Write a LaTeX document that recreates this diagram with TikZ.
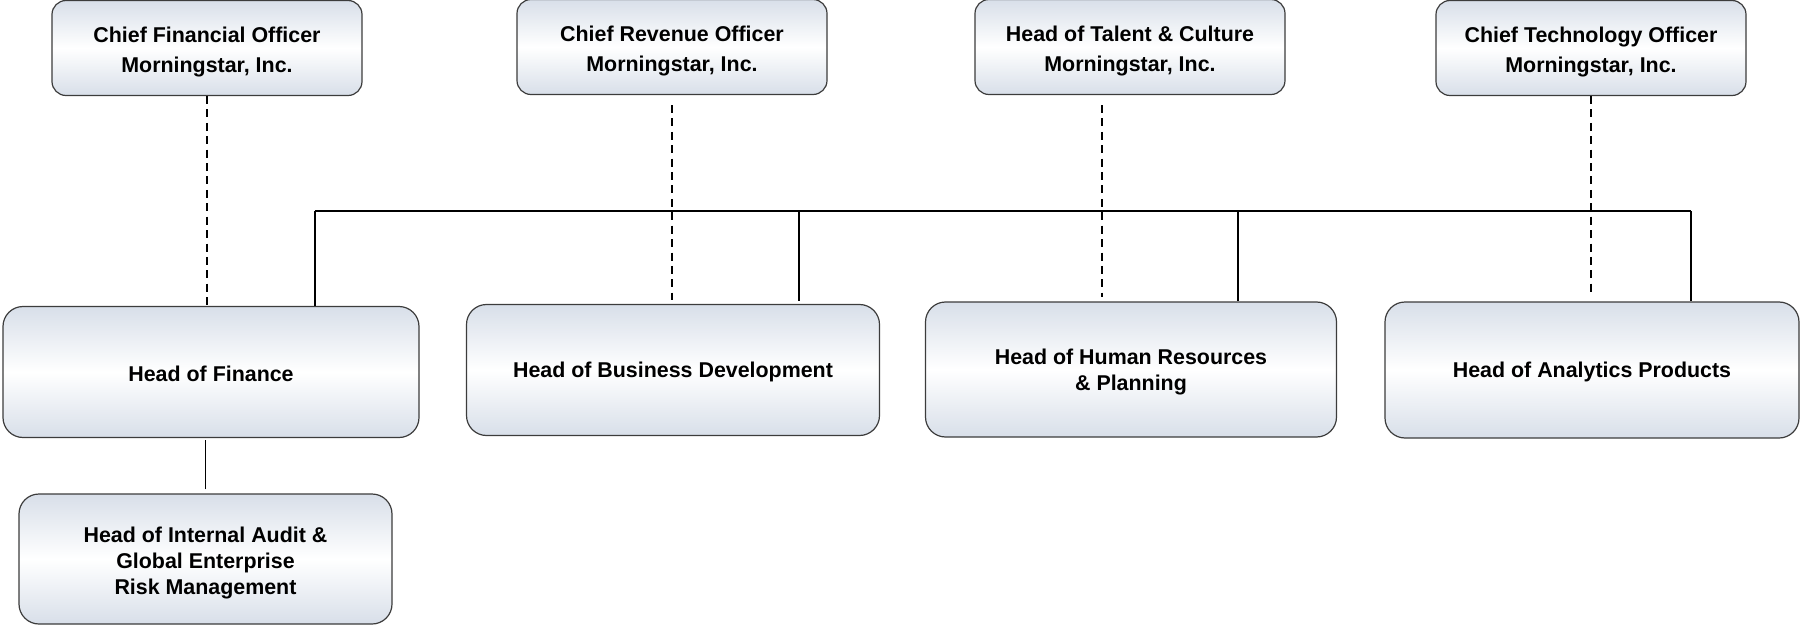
\documentclass[tikz,border=0pt]{standalone}
\usepackage{fontspec}
\setmainfont{Liberation Sans}
\usepackage{xcolor}
\usetikzlibrary{positioning,arrows.meta}

\definecolor{boxedge}{HTML}{3C3C3C}
\definecolor{boxtint}{HTML}{D8DFE9}
\newcommand{\lift}[1]{\rule{0pt}{#1}}

\begin{document}
\begin{tikzpicture}[
    x=0.5pt,
    y=-0.5pt,
    line width=0.8pt,
    font=\fontsize{10.7pt}{12.8pt}\selectfont\bfseries
]

\tikzstyle{post}=[
    draw=boxedge,
    line width=0.6pt,
    rounded corners=7pt,
    top color=boxtint,
    bottom color=boxtint,
    middle color=white,
    align=center,
    inner sep=2pt
]
\tikzstyle{chief}=[post, minimum width=155pt, minimum height=47.5pt,
    font=\fontsize{10.7pt}{14.9pt}\selectfont\bfseries]
\tikzstyle{head}=[post, rounded corners=10pt, minimum width=206.5pt, minimum height=65.5pt]
\tikzstyle{dotted line}=[dash pattern=on 4pt off 2.7pt, line width=0.9pt]

\useasboundingbox (0,0) rectangle (1800,626);

\node[chief] (cfo) at (207,48) {\lift{11.8pt}Chief Financial Officer\\Morningstar, Inc.};
\node[chief] (cro) at (672,47) {\lift{11.8pt}Chief Revenue Officer\\Morningstar, Inc.};
\node[chief] (tal) at (1130,47) {\lift{11.8pt}Head of Talent \& Culture\\Morningstar, Inc.};
\node[chief] (cto) at (1591,48) {\lift{11.8pt}Chief Technology Officer\\Morningstar, Inc.};

\node[head, minimum width=208pt] (fin) at (211,372) {\lift{9.5pt}Head of Finance};
\node[head] (biz) at (673,370) {\lift{10.1pt}Head of Business Development};
\node[head, minimum width=205.5pt, minimum height=67.5pt] (hr) at (1131,369.5) {\lift{10.1pt}Head of Human Resources\\\& Planning};
\node[head, minimum width=207pt, minimum height=68pt] (ana) at (1592,370) {\lift{10.1pt}Head of Analytics Products};
\node[head, minimum width=186.5pt, minimum height=65pt] (aud) at (205.5,559) {\lift{11.8pt}Head of Internal Audit \&\\Global Enterprise\\Risk Management};

\coordinate (barL) at (315,211);
\coordinate (barB) at (799,211);
\coordinate (barH) at (1238,211);
\coordinate (barR) at (1691,211);

\draw (barL) -- (barR);
\draw (barL) -- (barL |- fin.north);
\draw (barB) -- ([yshift=1.5pt]barB |- biz.north);
\draw (barH) -- (barH |- hr.north);
\draw (barR) -- (barR |- ana.north);

\draw[dotted line] (cfo.south) -- (cfo.south |- fin.north);
\draw[dotted line, shorten <=5pt, shorten >=2pt] (cro.south) -- (cro.south |- biz.north);
\draw[dotted line, shorten <=5pt, shorten >=2pt] ([xshift=-14pt]tal.south) -- ([xshift=-14pt]tal.south |- hr.north);
\draw[dotted line, shorten >=4.5pt] (cto.south) -- (cto.south |- ana.north);

\draw[shorten >=1pt, shorten <=2pt] (aud.north) -- (aud.north |- fin.south);

\end{tikzpicture}
\end{document}
